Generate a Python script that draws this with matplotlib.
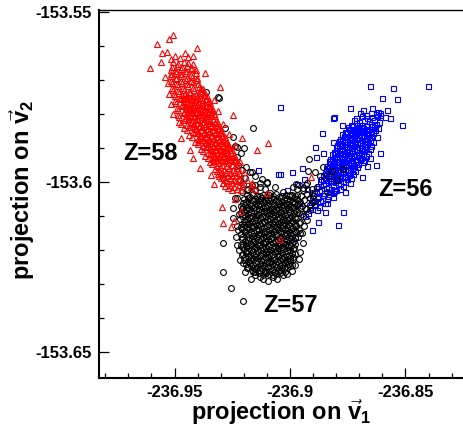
import numpy as np
import matplotlib
matplotlib.use("Agg")
import matplotlib.pyplot as plt
from matplotlib.ticker import MultipleLocator

plt.rcParams['font.family'] = ['Liberation Sans', 'DejaVu Sans']
plt.rcParams['font.weight'] = 'bold'
plt.rcParams['mathtext.fontset'] = 'custom'
plt.rcParams['mathtext.rm'] = 'Liberation Sans:bold'
plt.rcParams['mathtext.it'] = 'Liberation Sans:bold'
plt.rcParams['mathtext.bf'] = 'Liberation Sans:bold'

# reference point; all points are offsets from it in units of 1e-4
x_ref = -236.9
y_ref = -153.6

# Z=58 (red triangles)
z58_core = np.array([
    (-505, 352), (-484, 347), (-461, 354), (-440, 349), (-418, 346),
    (-512, 338), (-490, 342), (-468, 337), (-447, 341), (-425, 336),
    (-515, 331), (-494, 327), (-471, 333), (-450, 328), (-428, 332), (-408, 329),
    (-516, 318), (-493, 322), (-472, 317), (-449, 321), (-427, 316), (-405, 320),
    (-514, 312), (-492, 307), (-470, 311), (-448, 306), (-425, 310), (-403, 305),
    (-517, 298), (-495, 303), (-473, 297), (-451, 301), (-428, 296), (-402, 299),
    (-513, 291), (-490, 287), (-467, 292), (-446, 288), (-422, 293), (-398, 287),
    (-510, 278), (-486, 283), (-463, 277), (-441, 282), (-418, 277), (-395, 281), (-384, 276),
    (-506, 272), (-483, 267), (-459, 271), (-437, 266), (-414, 270), (-391, 268), (-376, 273),
    (-504, 259), (-480, 263), (-456, 258), (-433, 262), (-409, 257), (-385, 261), (-366, 256),
    (-500, 252), (-476, 247), (-452, 251), (-428, 246), (-404, 250), (-380, 248), (-359, 253),
    (-497, 238), (-473, 243), (-449, 237), (-424, 242), (-400, 236), (-375, 241), (-351, 239),
    (-493, 232), (-468, 227), (-444, 231), (-419, 226), (-394, 230), (-369, 228), (-345, 233),
    (-488, 218), (-464, 223), (-439, 217), (-414, 222), (-389, 217), (-364, 221), (-340, 218),
    (-487, 212), (-461, 207), (-435, 211), (-410, 206), (-384, 210), (-358, 208), (-334, 212),
    (-485, 198), (-459, 203), (-432, 197), (-406, 202), (-380, 197), (-354, 201), (-328, 199),
    (-482, 192), (-456, 187), (-429, 191), (-402, 186), (-376, 190), (-349, 188), (-323, 193),
    (-480, 178), (-453, 183), (-426, 177), (-399, 182), (-372, 177), (-345, 181), (-319, 179),
    (-470, 172), (-444, 167), (-417, 171), (-391, 166), (-365, 170), (-338, 168), (-312, 173),
    (-459, 158), (-433, 163), (-408, 157), (-382, 162), (-356, 157), (-330, 161), (-306, 159),
    (-447, 152), (-422, 147), (-397, 151), (-372, 146), (-347, 150), (-322, 148), (-298, 153),
    (-436, 138), (-411, 143), (-386, 137), (-362, 142), (-337, 137), (-312, 141), (-289, 139),
    (-423, 132), (-399, 127), (-375, 131), (-352, 126), (-328, 130), (-304, 128), (-282, 133),
    (-411, 118), (-388, 123), (-365, 117), (-342, 122), (-319, 117), (-296, 121), (-274, 119),
    (-398, 112), (-376, 107), (-354, 111), (-332, 106), (-310, 110), (-288, 108), (-267, 113),
    (-386, 98), (-364, 103), (-343, 97), (-322, 102), (-300, 97), (-279, 101), (-259, 99),
    (-376, 92), (-355, 87), (-334, 91), (-313, 86), (-292, 90), (-271, 88), (-251, 93),
    (-367, 78), (-346, 83), (-326, 77), (-305, 82), (-284, 77), (-263, 81), (-244, 79),
    (-357, 72), (-337, 67), (-317, 71), (-297, 66), (-277, 70), (-257, 68), (-238, 73),
    (-348, 58), (-328, 63), (-309, 57), (-289, 62), (-269, 57), (-249, 61), (-231, 59),
    (-336, 52), (-314, 47), (-293, 51), (-271, 46), (-249, 50), (-229, 48),
    (-324, 38), (-304, 43), (-284, 37), (-265, 42), (-245, 37), (-227, 41),
    (-317, 32), (-297, 27), (-277, 31), (-258, 26), (-238, 30), (-222, 28),
    (-308, 18), (-289, 23), (-270, 17), (-251, 22), (-232, 17), (-218, 21),
    (-299, 12), (-280, 7), (-261, 11), (-242, 6), (-222, 10),
    (-291, -2), (-272, 3), (-253, -3), (-233, 2), (-212, -1),
    (-280, -12), (-261, -8), (-242, -13), (-223, -9), (-206, -11),
    (-268, -18), (-250, -23), (-231, -19), (-213, -22),
    (-468, 255), (-444, 256), (-420, 254), (-395, 257), (-371, 255),
    (-463, 245), (-438, 246), (-413, 244), (-389, 247), (-364, 245),
    (-458, 235), (-432, 234), (-407, 236), (-382, 233), (-357, 235),
    (-453, 225), (-427, 224), (-401, 226), (-376, 224), (-351, 225),
    (-449, 215), (-423, 214), (-397, 216), (-371, 214), (-346, 215),
    (-446, 205), (-419, 204), (-393, 206), (-367, 204), (-341, 205),
    (-443, 195), (-416, 194), (-389, 196), (-363, 194), (-336, 195),
    (-440, 185), (-413, 184), (-386, 186), (-359, 184), (-332, 185),
    (-431, 175), (-404, 174), (-378, 176), (-352, 174), (-325, 175),
    (-421, 165), (-395, 164), (-369, 166), (-343, 164), (-318, 165),
    (-410, 155), (-385, 154), (-360, 156), (-335, 154), (-310, 155),
    (-399, 145), (-374, 144), (-349, 146), (-325, 144), (-300, 145),
    (-388, 135), (-364, 134), (-340, 136), (-316, 134), (-293, 135),
    (-377, 125), (-353, 124), (-330, 126), (-307, 124), (-285, 125),
    (-365, 115), (-343, 114), (-321, 116), (-299, 114), (-278, 115),
    (-354, 105), (-333, 104), (-311, 106), (-290, 104), (-269, 105),
    (-344, 95), (-323, 94), (-302, 96), (-281, 94), (-261, 95),
    (-336, 85), (-315, 84), (-295, 86), (-274, 84), (-254, 85),
    (-327, 75), (-307, 74), (-287, 76), (-267, 74), (-247, 75),
    (-318, 65), (-299, 64), (-279, 66), (-259, 64), (-240, 65),
])
z58_scatter = np.array([
    (-506, 432), (-524, 420), (-576, 406), (-403, 394), (-554, 379), (-532, 382),
    (-606, 335), (-558, 353), (-541, 309), (-497, 372), (-478, 365), (-515, 361),
    (-440, 368), (-455, 380), (-420, 372), (-433, 94), (-398, 118), (-95, 115),
    (-143, 94), (-247, 197), (-208, 129), (-303, 279), (-368, 320), (-312, 24),
    (-290, -3), (-165, -3), (-100, -32), (-238, -50), (-294, -74), (-212, -85),
    (-242, -115), (-290, -121), (-255, -132), (-43, -168), (91, 15), (-330, 240),
    (-310, 210), (-290, 170), (-265, 140), (-240, 110), (-215, 60), (-200, 30),
    (-185, 5), (-170, -15), (-150, -20), (-530, 290), (-525, 260), (-515, 230),
    (-505, 200), (-470, 130), (-420, 70), (-390, 40), (-340, 20), (-330, -5),
])

# Z=57 (black circles)
z57_core = np.array([
    (-188, -38), (-173, -43), (-160, -36), (-145, -41), (-131, -40), (-118, -37), (-103, -44), (-90, -39),
    (-75, -42), (-61, -36), (-47, -43), (-34, -40), (-19, -38), (-5, -41), (9, -37), (22, -42),
    (-198, -51), (-181, -47), (-166, -54), (-153, -49), (-138, -52), (-124, -46), (-110, -50), (-96, -53),
    (-82, -48), (-68, -51), (-54, -55), (-40, -47), (-26, -52), (-12, -49), (2, -53), (16, -46), (29, -50),
    (-205, -62), (-190, -58), (-175, -63), (-159, -57), (-146, -61), (-131, -64), (-117, -59), (-104, -56),
    (-89, -62), (-75, -60), (-61, -57), (-47, -63), (-33, -58), (-19, -61), (-5, -64), (8, -59), (23, -62),
    (-211, -71), (-196, -67), (-183, -73), (-167, -69), (-152, -72), (-139, -66), (-124, -70), (-110, -74),
    (-97, -68), (-82, -71), (-68, -67), (-54, -73), (-40, -70), (-26, -66), (-12, -72), (2, -69), (16, -74), (30, -68),
    (-207, -78), (-191, -83), (-176, -79), (-161, -76), (-147, -82), (-133, -80), (-118, -77), (-104, -84),
    (-90, -81), (-76, -78), (-62, -83), (-48, -79), (-34, -76), (-20, -82), (-6, -80), (9, -77), (24, -83),
    (-214, -92), (-198, -88), (-184, -93), (-169, -87), (-155, -91), (-140, -94), (-126, -89), (-112, -86),
    (-97, -92), (-83, -90), (-69, -87), (-55, -93), (-41, -88), (-27, -91), (-13, -94), (1, -89), (16, -92), (31, -87),
    (-209, -101), (-193, -97), (-178, -103), (-164, -99), (-149, -102), (-135, -96), (-121, -100), (-106, -104),
    (-92, -98), (-78, -101), (-64, -97), (-50, -103), (-36, -100), (-22, -96), (-8, -102), (7, -99), (22, -104),
    (-215, -108), (-200, -113), (-186, -109), (-171, -106), (-156, -112), (-142, -110), (-128, -107), (-113, -114),
    (-99, -111), (-85, -108), (-71, -113), (-57, -109), (-43, -106), (-29, -112), (-15, -110), (-1, -107), (14, -113), (28, -109),
    (-210, -122), (-194, -118), (-180, -123), (-165, -117), (-151, -121), (-136, -124), (-122, -119), (-108, -116),
    (-94, -122), (-80, -120), (-66, -117), (-52, -123), (-38, -118), (-24, -121), (-10, -124), (5, -119), (20, -122),
    (-214, -131), (-199, -127), (-185, -133), (-170, -129), (-156, -132), (-141, -126), (-127, -130), (-113, -134),
    (-99, -128), (-85, -131), (-71, -127), (-57, -133), (-43, -130), (-29, -126), (-15, -132), (0, -129), (14, -134), (27, -128),
    (-208, -138), (-193, -143), (-178, -139), (-163, -136), (-149, -142), (-134, -140), (-120, -137), (-106, -144),
    (-92, -141), (-78, -138), (-64, -143), (-50, -139), (-36, -136), (-22, -142), (-8, -140), (6, -137), (21, -143),
    (-212, -152), (-197, -148), (-182, -153), (-168, -147), (-154, -151), (-139, -154), (-125, -149), (-111, -146),
    (-97, -152), (-83, -150), (-69, -147), (-55, -153), (-41, -148), (-27, -151), (-13, -154), (1, -149), (15, -152), (26, -147),
    (-206, -161), (-190, -157), (-176, -163), (-161, -159), (-147, -162), (-132, -156), (-118, -160), (-104, -164),
    (-90, -158), (-76, -161), (-62, -157), (-48, -163), (-34, -160), (-20, -156), (-6, -162), (8, -159), (22, -164),
    (-209, -168), (-195, -173), (-180, -169), (-166, -166), (-152, -172), (-137, -170), (-123, -167), (-109, -174),
    (-95, -171), (-81, -168), (-67, -173), (-53, -169), (-39, -166), (-25, -172), (-11, -170), (3, -167), (17, -173),
    (-203, -182), (-188, -178), (-173, -183), (-159, -177), (-144, -181), (-130, -184), (-116, -179), (-102, -176),
    (-88, -182), (-74, -180), (-60, -177), (-46, -183), (-32, -178), (-18, -181), (-4, -184), (10, -179), (23, -182),
    (-206, -191), (-192, -187), (-177, -193), (-163, -189), (-149, -192), (-134, -186), (-120, -190), (-106, -194),
    (-92, -188), (-78, -191), (-64, -187), (-50, -193), (-36, -190), (-22, -186), (-8, -192), (6, -189), (19, -194),
    (-200, -198), (-185, -203), (-170, -199), (-156, -196), (-141, -202), (-127, -200), (-113, -197), (-99, -204),
    (-85, -201), (-71, -198), (-57, -203), (-43, -199), (-29, -196), (-15, -202), (-1, -200), (13, -197),
    (-203, -212), (-189, -208), (-174, -213), (-160, -207), (-146, -211), (-131, -214), (-117, -209), (-103, -206),
    (-89, -212), (-75, -210), (-61, -207), (-47, -213), (-33, -208), (-19, -211), (-5, -214), (9, -209), (20, -212),
    (-196, -221), (-181, -217), (-167, -223), (-152, -219), (-138, -222), (-124, -216), (-110, -220), (-96, -224),
    (-82, -218), (-68, -221), (-54, -217), (-40, -223), (-26, -220), (-12, -216), (2, -222), (15, -219),
    (-198, -228), (-184, -233), (-170, -229), (-155, -226), (-141, -232), (-127, -230), (-113, -227), (-99, -234),
    (-85, -231), (-71, -228), (-57, -233), (-43, -229), (-29, -226), (-15, -232), (-1, -230), (12, -227),
    (-190, -242), (-175, -238), (-161, -243), (-146, -237), (-132, -241), (-118, -244), (-104, -239), (-90, -236),
    (-76, -242), (-62, -240), (-48, -237), (-34, -243), (-20, -238), (-6, -241), (8, -244),
    (-183, -251), (-168, -247), (-154, -253), (-139, -249), (-125, -252), (-111, -246), (-97, -250), (-83, -254),
    (-69, -248), (-55, -251), (-41, -247), (-27, -253), (-13, -250), (0, -246),
    (-165, -258), (-150, -263), (-136, -259), (-121, -256), (-107, -262), (-93, -260), (-79, -257), (-65, -264),
    (-51, -261), (-37, -258), (-23, -263),
    (-150, -272), (-134, -268), (-119, -273), (-104, -267), (-90, -271), (-75, -274), (-60, -269), (-45, -266), (-31, -272),
])
z57_scatter = np.array([
    (-290, -179), (-290, -265), (-255, -312), (-203, -350), (-229, -185), (-212, -185), (-234, -162),
    (-225, -141), (-247, -106), (-247, -76), (-238, -47), (-208, -215), (-203, -238), (-186, -253),
    (-160, -265), (-130, -280), (-108, -265), (-74, -280), (-35, -253), (-9, -241), (22, -244),
    (39, -226), (43, -206), (56, -179), (35, -162), (-117, -285), (-130, -3), (-100, 0), (-65, -15),
    (-152, -24), (-87, -32), (-30, -29), (0, -38), (-186, -24), (-121, 9), (-208, -29), (-229, -47),
    (-203, -74), (-222, -95), (-230, -130), (-220, -200), (-215, -230), (-195, -265), (-170, -285),
    (-95, -290), (-55, -285), (-15, -270), (10, -260), (45, -150), (40, -120), (50, -95),
    (-364, 265), (-307, 247), (-455, 244), (-420, 218), (-281, 159), (-160, 159), (-247, 132),
    (-229, 103), (-212, 85), (-229, 74), (-199, 100), (-173, 29), (-152, 18), (-208, 35), (-100, -3),
    (-216, 6), (-312, 250), (-238, 106), (-290, 12), (-195, 12), (-165, 29), (-165, -9),
    (-180, -20), (-150, -10), (-130, -15), (-110, -20), (-205, -5), (-190, 45), (-225, 50),
    (82, 68), (78, 32), (108, 29), (143, 44), (165, 18), (182, 32), (229, 38), (203, 6), (130, 18),
    (117, -15), (160, -29), (95, -32), (74, -3), (100, -59), (56, -18), (30, -38), (43, -59),
    (65, -76), (87, -82), (13, -59), (40, -10), (55, -22), (68, -8), (30, -20), (48, -40), (62, -52),
    (75, -35), (88, -48), (35, -65), (52, -70), (70, -80), (85, -66), (40, -90), (58, -100), (72, -110),
    (45, -118), (60, -130), (38, -140), (50, -150), (95, -20), (100, -40), (110, -55), (25, -5), (12, -15),
])

# Z=56 (blue squares)
z56_core = np.array([
    (305, 202), (328, 197), (350, 203), (372, 199), (390, 196),
    (285, 188), (310, 193), (333, 187), (355, 191), (378, 194),
    (275, 182), (297, 177), (320, 183), (342, 179), (365, 184), (385, 178),
    (262, 168), (285, 173), (307, 169), (330, 166), (352, 172), (374, 170),
    (250, 162), (272, 157), (295, 163), (317, 159), (340, 156), (362, 161), (380, 158),
    (238, 148), (260, 153), (283, 147), (305, 151), (327, 154), (350, 149), (370, 152),
    (226, 142), (248, 137), (270, 143), (293, 139), (315, 136), (337, 141), (360, 144),
    (218, 128), (240, 133), (262, 127), (284, 131), (306, 134), (328, 129), (350, 132),
    (212, 122), (234, 117), (256, 123), (278, 119), (300, 116), (322, 121), (345, 124), (360, 118),
    (203, 108), (225, 113), (247, 107), (269, 111), (291, 114), (313, 109), (335, 112), (352, 106),
    (198, 102), (220, 97), (242, 103), (264, 99), (286, 96), (308, 101), (330, 104), (345, 98),
    (190, 88), (212, 93), (234, 87), (256, 91), (278, 94), (300, 89), (322, 92), (338, 86),
    (183, 82), (205, 77), (227, 83), (249, 79), (271, 76), (293, 81), (315, 84), (330, 78),
    (175, 68), (197, 73), (219, 67), (241, 71), (263, 74), (285, 69), (307, 72), (320, 66),
    (170, 62), (192, 57), (214, 63), (236, 59), (258, 56), (280, 61), (302, 64), (316, 58),
    (162, 48), (184, 53), (206, 47), (228, 51), (250, 54), (272, 49), (294, 52),
    (158, 42), (180, 37), (202, 43), (224, 39), (246, 36), (268, 41), (290, 44),
    (150, 28), (172, 33), (194, 27), (216, 31), (238, 34), (260, 29), (282, 32),
    (145, 22), (167, 17), (189, 23), (211, 19), (233, 16), (255, 21), (274, 24),
    (135, 8), (157, 13), (179, 7), (201, 11), (223, 14), (245, 9), (262, 12),
    (130, 2), (152, -3), (174, 3), (196, -1), (218, -4), (240, 1),
    (120, -12), (142, -7), (164, -13), (186, -9), (208, -6), (228, -11),
    (113, -18), (135, -23), (157, -17), (179, -21), (200, -24), (218, -19),
    (105, -32), (127, -27), (149, -33), (171, -29), (192, -26),
    (100, -38), (122, -43), (144, -37), (166, -41), (186, -44),
    (95, -52), (117, -47), (139, -53), (160, -49),
    (90, -58), (110, -63), (132, -57), (150, -61),
    (85, -72), (105, -67), (125, -73),
    (95, -78), (118, -83),
    (268, 165), (290, 167), (312, 163), (335, 166), (357, 164),
    (255, 155), (277, 153), (300, 156), (322, 154), (344, 157),
    (243, 145), (265, 147), (287, 143), (310, 146), (332, 144), (352, 147),
    (232, 135), (254, 133), (276, 136), (298, 134), (320, 137), (342, 133),
    (225, 125), (247, 127), (269, 123), (291, 126), (313, 124), (335, 127),
    (216, 115), (238, 113), (260, 116), (282, 114), (304, 117), (326, 113),
    (210, 105), (232, 107), (254, 103), (276, 106), (298, 104), (320, 107),
    (203, 95), (225, 93), (247, 96), (269, 94), (291, 97), (313, 93),
    (196, 85), (218, 87), (240, 83), (262, 86), (284, 84), (306, 87),
    (189, 75), (211, 73), (233, 76), (255, 74), (277, 77), (299, 73),
    (182, 65), (204, 67), (226, 63), (248, 66), (270, 64), (292, 67),
    (175, 55), (197, 53), (219, 56), (241, 54), (263, 57), (285, 53),
    (170, 45), (192, 47), (214, 43), (236, 46), (258, 44), (278, 47),
    (163, 35), (185, 33), (207, 36), (229, 34), (251, 37), (270, 33),
    (157, 25), (179, 27), (201, 23), (223, 26), (245, 24),
    (150, 15), (172, 13), (194, 16), (216, 14), (238, 17),
    (143, 5), (165, 7), (187, 3), (209, 6), (229, 4),
])
z56_scatter = np.array([
    (346, 282), (446, 276), (597, 282), (398, 247), (463, 244), (260, 218), (190, 191),
    (485, 168), (372, 50), (9, 29), (-13, -24), (-43, 221), (-139, 35), (-52, 24), (30, -6),
    (420, 212), (390, 203), (139, 144), (229, -88), (152, -88), (160, -62), (208, -126),
    (121, -118), (95, -141), (22, -162), (-43, 24), (316, 212), (355, 218), (381, 206),
    (433, 188), (411, 191), (186, 188), (225, 168), (333, 47), (312, 15), (260, -3),
    (238, -29), (186, -32), (108, 103), (113, 74), (143, 85), (186, 118), (377, 132),
    (390, 85), (346, 71), (60, 10), (75, -20), (50, 40), (40, -60), (65, -100), (80, -90),
])


def to_xy(pts):
    return x_ref + pts[:, 0] * 1e-4, y_ref + pts[:, 1] * 1e-4


fig = plt.figure(figsize=(4.63, 4.41), dpi=100)
ax = fig.add_axes([99 / 463, 1 - 378 / 441, 364 / 463, 368 / 441])

style = dict(linestyle='none', markerfacecolor='none', markeredgewidth=0.8)
for pts, mk, ms, col in [(z56_core, 's', 3.6, 'blue'), (z56_scatter, 's', 3.6, 'blue'),
                         (z57_core, 'o', 4.2, 'black'), (z57_scatter, 'o', 4.2, 'black'),
                         (z58_core, '^', 4.4, 'red'), (z58_scatter, '^', 4.4, 'red')]:
    x, y = to_xy(pts)
    ax.plot(x, y, marker=mk, markersize=ms, markeredgecolor=col, **style)

ax.set_xlim(-236.9827, -236.8251)
ax.set_ylim(-153.6576, -153.5494)

ax.xaxis.set_major_locator(MultipleLocator(0.05))
ax.xaxis.set_minor_locator(MultipleLocator(0.01))
ax.yaxis.set_major_locator(MultipleLocator(0.05))
ax.yaxis.set_minor_locator(MultipleLocator(0.01))
ax.xaxis.set_major_formatter(plt.FuncFormatter(lambda v, p: f'{v:g}'))
ax.yaxis.set_major_formatter(plt.FuncFormatter(lambda v, p: f'{v:g}'))
ax.tick_params(which='major', direction='in', length=7.5, width=0.9, labelsize=12, pad=5)
ax.tick_params(which='minor', direction='in', length=3.8, width=0.9)
for lab in ax.get_xticklabels() + ax.get_yticklabels():
    lab.set_fontweight('bold')

ax.spines['left'].set_linewidth(1.5)
ax.spines['bottom'].set_linewidth(1.5)
ax.spines['top'].set_linewidth(1.0)
ax.spines['right'].set_visible(False)

ax.set_xlabel(r'projection on $\vec{v}_1$', fontsize=17, fontweight='bold')
ax.set_ylabel(r'projection on $\vec{v}_2$', fontsize=17, fontweight='bold')
ax.xaxis.set_label_coords(0.5, -0.052)
ax.yaxis.set_label_coords(-0.17, 0.51)

ax.text(-236.9602, -153.5935, 'Z=58', fontsize=17, fontweight='bold', ha='center', va='baseline')
ax.text(-236.8502, -153.6041, 'Z=56', fontsize=17, fontweight='bold', ha='center', va='baseline')
ax.text(-236.9, -153.6382, 'Z=57', fontsize=17, fontweight='bold', ha='center', va='baseline')

plt.savefig('out.png', dpi=100)
